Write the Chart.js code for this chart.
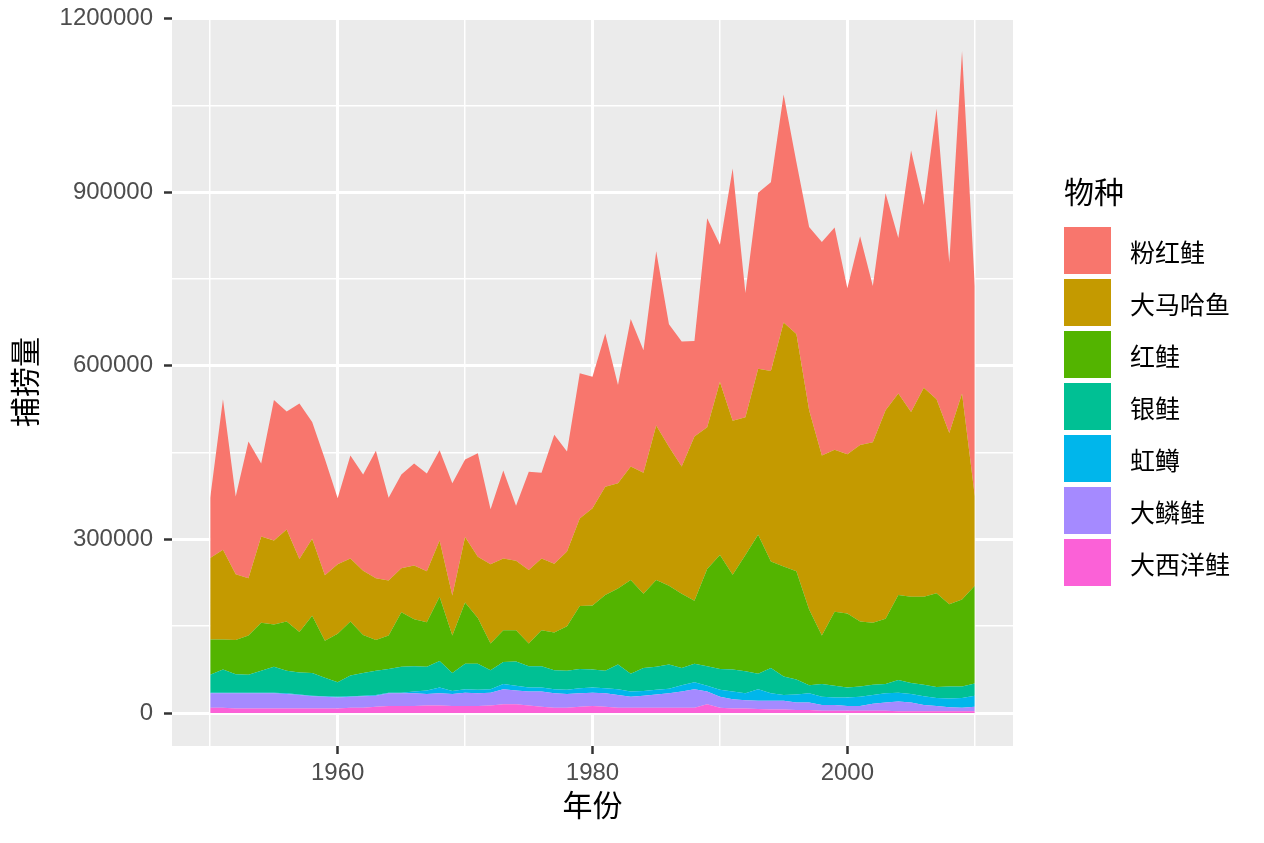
<!DOCTYPE html>
<html>
<head>
<meta charset="utf-8">
<script src="https://cdn.jsdelivr.net/npm/chart.js@4.4.1/dist/chart.umd.min.js"></script>
<style>
  body { margin: 0; background: #fff; }
  #wrap { position: relative; width: 1264px; height: 843px; }
  #legend { position: absolute; left: 1064px; top: 171px; font-family: 'Liberation Sans', 'Noto Sans CJK SC', sans-serif; color: #000; }
  #legend .title { font-size: 30px; height: 44px; line-height: 44px; margin-bottom: 12px; }
  #legend .item { display: flex; align-items: center; height: 47px; margin-bottom: 5px; }
  #legend .box { width: 47px; height: 47px; margin-right: 19px; }
  #legend .lab { font-size: 25px; }
</style>
</head>
<body>
<div id="wrap">
  <canvas id="c"></canvas>
  <div id="legend"></div>
</div>
<script>
const years = [1950, 1951, 1952, 1953, 1954, 1955, 1956, 1957, 1958, 1959,
  1960, 1961, 1962, 1963, 1964, 1965, 1966, 1967, 1968, 1969,
  1970, 1971, 1972, 1973, 1974, 1975, 1976, 1977, 1978, 1979,
  1980, 1981, 1982, 1983, 1984, 1985, 1986, 1987, 1988, 1989,
  1990, 1991, 1992, 1993, 1994, 1995, 1996, 1997, 1998, 1999,
  2000, 2001, 2002, 2003, 2004, 2005, 2006, 2007, 2008, 2009, 2010];

// 大西洋鲑
const atlantic = [9000, 9000, 8000, 8000, 8000, 8000, 8000, 8000, 8000, 8000,
  8000, 9000, 9000, 11000, 12000, 12000, 12000, 13000, 13000, 12000,
  12000, 12000, 13000, 15000, 15000, 13000, 11000, 9000, 9000, 11000,
  12000, 11000, 9000, 9000, 9000, 9000, 9000, 9000, 9000, 15000,
  9000, 8000, 8000, 7000, 6000, 6000, 5000, 5000, 4000, 4000,
  4000, 4000, 4000, 4000, 3000, 3000, 3000, 3000, 3000, 3000, 3000];
// 大鳞鲑
const chinook = [25000, 25000, 26000, 26000, 26000, 26000, 25000, 23000, 21000, 20000,
  19000, 19000, 20000, 19000, 22000, 22000, 22000, 20000, 21000, 21000,
  23000, 22000, 22000, 26000, 24000, 24000, 26000, 25000, 24000, 23000,
  23000, 23000, 22000, 19000, 21000, 23000, 25000, 28000, 32000, 22000,
  19000, 16000, 14000, 14000, 15000, 15000, 13000, 13000, 10000, 10000,
  8000, 8000, 12000, 14000, 17000, 15000, 11000, 9000, 7000, 6000, 8000];
// 虹鳟
const steelhead = [1000, 1000, 1000, 1000, 1000, 1000, 1000, 1000, 1000, 1000,
  1000, 1000, 1000, 1000, 1000, 1000, 3000, 6000, 10000, 5000,
  6000, 6000, 6000, 9000, 8000, 7000, 7000, 7000, 7000, 9000,
  9000, 9000, 10000, 9000, 8000, 8000, 8000, 11000, 12000, 10000,
  12000, 13000, 12000, 20000, 13000, 10000, 14000, 16000, 14000, 13000,
  15000, 16000, 15000, 16000, 15000, 15000, 15000, 14000, 15000, 17000, 19000];
// 银鲑
const coho = [31000, 40000, 32000, 31000, 38000, 45000, 39000, 38000, 39000, 32000,
  25000, 36000, 39000, 42000, 41000, 45000, 44000, 41000, 46000, 31000,
  44000, 45000, 33000, 38000, 42000, 37000, 37000, 33000, 33000, 33000,
  31000, 30000, 43000, 31000, 40000, 40000, 42000, 30000, 32000, 34000,
  36000, 38000, 38000, 27000, 44000, 32000, 26000, 14000, 22000, 20000,
  17000, 18000, 18000, 16000, 22000, 19000, 20000, 19000, 21000, 20000, 21000];
// 红鲑
const sockeye = [61000, 52000, 59000, 68000, 83000, 73000, 85000, 70000, 99000, 64000,
  84000, 93000, 66000, 53000, 58000, 94000, 81000, 77000, 111000, 65000,
  106000, 79000, 46000, 55000, 54000, 39000, 62000, 65000, 77000, 109000,
  111000, 131000, 131000, 162000, 128000, 150000, 136000, 128000, 109000, 168000,
  197000, 164000, 201000, 240000, 184000, 190000, 187000, 131000, 84000, 128000,
  128000, 112000, 107000, 113000, 147000, 149000, 152000, 162000, 142000, 150000, 169000];
// 大马哈鱼
const chum = [141000, 155000, 114000, 99000, 149000, 145000, 159000, 126000, 133000, 113000,
  120000, 109000, 111000, 107000, 95000, 76000, 93000, 88000, 97000, 69000,
  113000, 106000, 137000, 124000, 120000, 127000, 124000, 119000, 129000, 151000,
  168000, 187000, 182000, 196000, 209000, 267000, 240000, 220000, 284000, 245000,
  299000, 266000, 238000, 287000, 329000, 422000, 410000, 344000, 311000, 280000,
  275000, 305000, 312000, 360000, 348000, 319000, 361000, 335000, 296000, 356000, 155000];
// 粉红鲑
const pink = [104000, 260000, 134000, 236000, 126000, 243000, 204000, 269000, 202000, 201000,
  114000, 178000, 166000, 220000, 143000, 162000, 176000, 169000, 156000, 194000,
  134000, 179000, 95000, 152000, 95000, 170000, 148000, 223000, 173000, 251000,
  227000, 265000, 170000, 255000, 212000, 301000, 212000, 216000, 165000, 361000,
  237000, 436000, 215000, 304000, 326000, 394000, 297000, 317000, 369000, 384000,
  287000, 361000, 270000, 375000, 269000, 452000, 316000, 502000, 294000, 592000, 363000];

const species = ['粉红鲑', '大马哈鱼', '红鲑', '银鲑', '虹鳟', '大鳞鲑', '大西洋鲑'];
const colors = ['#F8766D', '#C49A00', '#53B400', '#00C094', '#00B6EB', '#A58AFF', '#FB61D7'];
const series = [pink, chum, sockeye, coho, steelhead, chinook, atlantic];

const xMajor = [1960, 1980, 2000];
const xMinor = [1950, 1970, 1990, 2010];
const yMajor = [0, 300000, 600000, 900000, 1200000];
const yMinor = [150000, 450000, 750000, 1050000];

const FONT = "'Liberation Sans', 'Noto Sans CJK SC', sans-serif";

// bottom layer first so Chart.js stacks 大西洋鲑 at the base
const datasets = [];
for (let i = series.length - 1; i >= 0; i--) {
  datasets.push({
    label: species[i],
    data: years.map((yr, j) => ({ x: yr, y: series[i][j] })),
    backgroundColor: colors[i],
    borderColor: 'rgba(0,0,0,0)',
    borderWidth: 0,
    pointRadius: 0,
    tension: 0,
    fill: datasets.length === 0 ? 'origin' : '-1'
  });
}

const panelBg = {
  id: 'panelBg',
  beforeDraw(chart) {
    const a = chart.chartArea;
    const ctx = chart.ctx;
    ctx.save();
    ctx.fillStyle = '#EBEBEB';
    ctx.fillRect(a.left, a.top, a.right - a.left, a.bottom - a.top);
    ctx.restore();
  }
};

new Chart(document.getElementById('c'), {
  type: 'line',
  data: { datasets },
  plugins: [panelBg],
  options: {
    responsive: true,
    maintainAspectRatio: false,
    animation: false,
    layout: { padding: { left: 0, top: 18, right: 251, bottom: 0 } },
    plugins: {
      legend: { display: false },
      tooltip: { enabled: false }
    },
    scales: {
      x: {
        type: 'linear',
        min: 1947,
        max: 2013,
        afterBuildTicks: s => { s.ticks = xMinor.concat(xMajor).sort().map(v => ({ value: v })); },
        afterFit: s => { s.height = 97; s.paddingLeft = 0; s.paddingRight = 0; },
        ticks: {
          autoSkip: false,
          maxRotation: 0,
          padding: 5,
          color: '#4D4D4D',
          font: { family: FONT, size: 24 },
          callback: v => xMajor.includes(v) ? String(v) : ''
        },
        grid: {
          color: '#FFFFFF',
          lineWidth: c => xMajor.includes(c.tick.value) ? 3 : 1.5,
          tickColor: c => xMajor.includes(c.tick.value) ? '#333333' : 'rgba(0,0,0,0)',
          tickWidth: 2.5,
          tickLength: 8
        },
        border: { display: false },
        title: {
          display: true,
          text: '年份',
          color: '#000',
          font: { family: FONT, size: 30 },
          padding: { top: 0, bottom: 17 }
        }
      },
      y: {
        stacked: true,
        min: -57000,
        max: 1201000,
        afterBuildTicks: s => { s.ticks = yMinor.concat(yMajor).sort((a, b) => a - b).map(v => ({ value: v })); },
        afterFit: s => { s.width = 172; s.paddingTop = 0; s.paddingBottom = 0; },
        ticks: {
          autoSkip: false,
          padding: 11,
          color: '#4D4D4D',
          font: { family: FONT, size: 24 },
          callback: v => yMajor.includes(v) ? String(v) : ''
        },
        grid: {
          color: '#FFFFFF',
          lineWidth: c => yMajor.includes(c.tick.value) ? 3 : 1.5,
          tickColor: c => yMajor.includes(c.tick.value) ? '#333333' : 'rgba(0,0,0,0)',
          tickWidth: 2.5,
          tickLength: 8
        },
        border: { display: false },
        title: {
          display: true,
          text: '捕捞量',
          color: '#000',
          font: { family: FONT, size: 30 },
          padding: { top: 10, bottom: 0 }
        }
      }
    }
  }
});

const legend = document.getElementById('legend');
let html = '<div class="title">物种</div>';
species.forEach((name, i) => {
  html += '<div class="item"><div class="box" style="background:' + colors[i] + '"></div><span class="lab">' + name + '</span></div>';
});
legend.innerHTML = html;
</script>
</body>
</html>
